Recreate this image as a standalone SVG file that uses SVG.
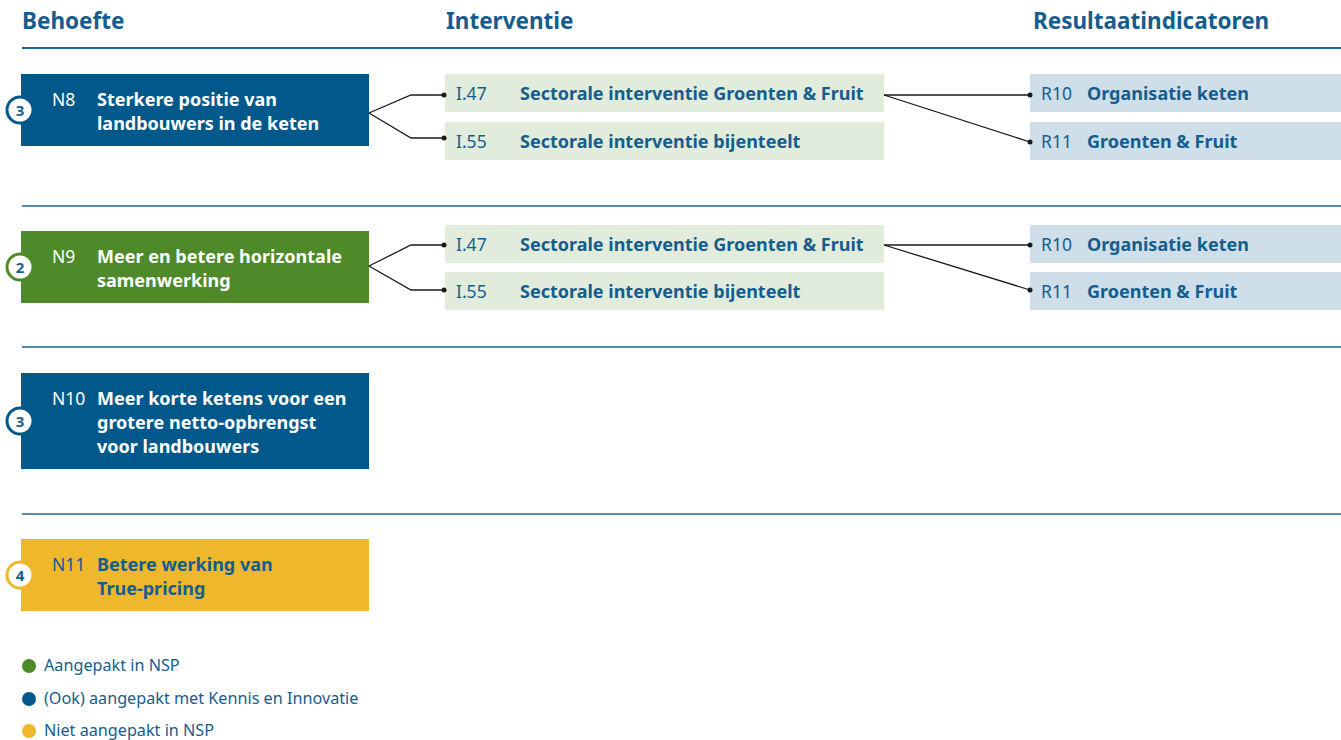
<svg xmlns="http://www.w3.org/2000/svg" width="1341" height="740" viewBox="0 0 1341 740">
<style>
text{font-family:"Noto Sans","Open Sans",sans-serif}
.hd{font-size:22.5px;font-weight:700;fill:#155d8e}
.sep{stroke:#1f6496;stroke-width:1.5}
.code{font-size:17.5px;fill:#ffffff}
.lbl{font-size:18px;font-weight:700;fill:#ffffff}
.code2{font-size:17.5px;fill:#155d8e}
.lbl2{font-size:18px;font-weight:700;fill:#155d8e}
.iv{fill:#e1ecdc}
.rs{fill:#cedfe9}
.blue{fill:#01598b}
.green{fill:#4e8a29}
.yellow{fill:#eeb72c}
.badge{fill:#ffffff;stroke-width:3}
.bn{font-size:15px;font-weight:700;fill:#155d8e;text-anchor:middle}
.con{fill:none;stroke:#1a1a1a;stroke-width:1.3}
.dot{fill:#1a1a1a}
.leg{font-size:16.2px;fill:#155d8e}
</style>
<g id="headers">
<text class="hd" x="22" y="29">Behoefte</text>
<text class="hd" x="446" y="29">Interventie</text>
<text class="hd" x="1033" y="29">Resultaatindicatoren</text>
<line x1="22" y1="48" x2="1341" y2="48" stroke="#1f6496" stroke-width="2"/>
<line class="sep" x1="22" y1="206" x2="1341" y2="206"/>
<line class="sep" x1="22" y1="347" x2="1341" y2="347"/>
<line class="sep" x1="22" y1="514" x2="1341" y2="514"/>
</g>
<g id="N8">
<rect class="blue" x="21" y="74" width="348" height="72"/>
<circle class="badge" cx="20" cy="110" r="13" stroke="#01598b"/>
<text class="bn" x="20" y="115.5">3</text>
<text class="code" x="52" y="106">N8</text>
<text class="lbl" x="97" y="106">Sterkere positie van</text>
<text class="lbl" x="97" y="130">landbouwers in de keten</text>
</g>
<g id="I47a"><rect class="iv" x="445" y="74" width="439" height="38"/><text class="code2" x="456" y="100">I.47</text><text class="lbl2" x="520" y="100">Sectorale interventie Groenten &amp; Fruit</text></g>
<g id="I55a"><rect class="iv" x="445" y="122" width="439" height="38"/><text class="code2" x="456" y="148">I.55</text><text class="lbl2" x="520" y="148">Sectorale interventie bijenteelt</text></g>
<g id="R10a"><rect class="rs" x="1030" y="74" width="311" height="38"/><text class="code2" x="1041" y="100">R10</text><text class="lbl2" x="1087" y="100">Organisatie keten</text></g>
<g id="R11a"><rect class="rs" x="1030" y="122" width="311" height="38"/><text class="code2" x="1041" y="148">R11</text><text class="lbl2" x="1087" y="148">Groenten &amp; Fruit</text></g>
<g id="N9">
<rect class="green" x="21" y="231" width="348" height="72"/>
<circle class="badge" cx="20" cy="267" r="13" stroke="#4e8a29"/>
<text class="bn" x="20" y="272.5">2</text>
<text class="code" x="52" y="263">N9</text>
<text class="lbl" x="97" y="263">Meer en betere horizontale</text>
<text class="lbl" x="97" y="287">samenwerking</text>
</g>
<g id="I47b"><rect class="iv" x="445" y="225" width="439" height="38"/><text class="code2" x="456" y="251">I.47</text><text class="lbl2" x="520" y="251">Sectorale interventie Groenten &amp; Fruit</text></g>
<g id="I55b"><rect class="iv" x="445" y="272" width="439" height="38"/><text class="code2" x="456" y="298">I.55</text><text class="lbl2" x="520" y="298">Sectorale interventie bijenteelt</text></g>
<g id="R10b"><rect class="rs" x="1030" y="225" width="311" height="38"/><text class="code2" x="1041" y="251">R10</text><text class="lbl2" x="1087" y="251">Organisatie keten</text></g>
<g id="R11b"><rect class="rs" x="1030" y="272" width="311" height="38"/><text class="code2" x="1041" y="298">R11</text><text class="lbl2" x="1087" y="298">Groenten &amp; Fruit</text></g>
<g id="N10">
<rect class="blue" x="21" y="373" width="348" height="96"/>
<circle class="badge" cx="20" cy="421" r="13" stroke="#01598b"/>
<text class="bn" x="20" y="426.5">3</text>
<text class="code" x="52" y="405">N10</text>
<text class="lbl" x="97" y="405">Meer korte ketens voor een</text>
<text class="lbl" x="97" y="429">grotere netto-opbrengst</text>
<text class="lbl" x="97" y="453">voor landbouwers</text>
</g>
<g id="N11">
<rect class="yellow" x="21" y="539" width="348" height="72"/>
<circle class="badge" cx="20" cy="575" r="13" stroke="#eeb72c"/>
<text class="bn" x="20" y="580.5">4</text>
<text class="code2" x="52" y="571">N11</text>
<text class="lbl2" x="97" y="571">Betere werking van</text>
<text class="lbl2" x="97" y="595">True-pricing</text>
</g>
<g id="connectors">
<polyline class="con" points="369,113 411,95 445,95"/>
<polyline class="con" points="369,113 411,138 445,138"/>
<polyline class="con" points="884,95 1030,95"/>
<polyline class="con" points="884,95 1030,142"/>
<circle class="dot" cx="444" cy="95" r="2.5"/>
<circle class="dot" cx="444" cy="138" r="2.5"/>
<circle class="dot" cx="1030" cy="95" r="2.5"/>
<circle class="dot" cx="1030" cy="142" r="2.5"/>
<polyline class="con" points="369,266 411,245 445,245"/>
<polyline class="con" points="369,266 411,290 445,290"/>
<polyline class="con" points="884,245 1030,245"/>
<polyline class="con" points="884,245 1030,290"/>
<circle class="dot" cx="444" cy="245" r="2.5"/>
<circle class="dot" cx="444" cy="290" r="2.5"/>
<circle class="dot" cx="1030" cy="245" r="2.5"/>
<circle class="dot" cx="1030" cy="290" r="2.5"/>
</g>
<g id="legend">
<circle cx="29" cy="666" r="7" fill="#4e8a29"/>
<text class="leg" x="44" y="671">Aangepakt in NSP</text>
<circle cx="29" cy="699" r="7" fill="#01598b"/>
<text class="leg" x="44" y="704">(Ook) aangepakt met Kennis en Innovatie</text>
<circle cx="29" cy="731" r="7" fill="#eeb72c"/>
<text class="leg" x="44" y="736">Niet aangepakt in NSP</text>
</g>
</svg>
